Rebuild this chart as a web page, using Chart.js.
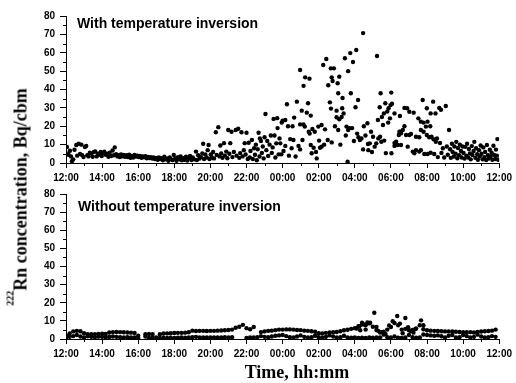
<!DOCTYPE html>
<html>
<head>
<meta charset="utf-8">
<script src="https://cdn.jsdelivr.net/npm/chart.js@4.4.1/dist/chart.umd.min.js"></script>
<style>
body{margin:0;background:#fff}
#wrap{position:relative;width:516px;height:383px;background:#fff;overflow:hidden}
.panel{position:absolute;left:0;width:516px}
#ytitle{position:absolute;left:22px;top:197px;transform:translate(-50%,-50%) rotate(-90deg);white-space:nowrap;font:bold 18px "Liberation Serif","Times New Roman",serif;line-height:18px;color:#000}
#ytitle span{font-size:10px;position:relative;top:-13px}
#xtitle{position:absolute;left:297px;top:362px;transform:translateX(-50%);white-space:nowrap;font:bold 18px "Liberation Serif","Times New Roman",serif;line-height:20px;color:#000}
</style>
</head>
<body>
<div id="wrap">
  <div class="panel" style="top:0;height:183px"><canvas id="topChart"></canvas></div>
  <div class="panel" style="top:183px;height:200px"><canvas id="bottomChart"></canvas></div>
  <div id="ytitle"><span>222</span>Rn concentration, Bq/cbm</div>
  <div id="xtitle">Time, hh:mm</div>
</div>
<script>
// hours after 12:00, value in Bq/cbm
var withInversion = [
  [0.05,8.7],[0.1,5],[0.15,4.4],[0.22,6.7],[0.28,3.5],[0.33,1],[0.4,2],[0.47,7.2],[0.57,9.8],[0.62,4],[0.7,10.5],[0.78,4.9],[0.85,10],[0.9,4.2],[0.97,3.2],
  [1.05,8.7],[1.12,9.3],[1.18,4.2],[1.25,3.6],[1.32,5.6],[1.4,5.2],[1.48,3.4],[1.55,6],[1.62,6.3],[1.7,3.6],[1.78,5],[1.85,4.5],[1.92,6],[1.98,3.8],
  [2.05,5.5],[2.12,6.2],[2.2,4.5],[2.28,5],[2.35,3.4],[2.42,5.6],[2.5,3.8],[2.58,6.8],[2.65,4.2],[2.7,8.5],[2.78,4.8],[2.85,3.6],[2.92,4.2],[2.98,3.2],
  [3.05,4.6],[3.12,3.6],[3.2,4.4],[3.27,3.4],[3.35,4.2],[3.42,3.2],[3.5,4.5],[3.57,2.8],[3.65,3.8],[3.72,3.0],[3.8,4.4],[3.87,3.5],[3.95,4],
  [4.02,3.2],[4.1,3.8],[4.18,2.8],[4.25,3.5],[4.33,3.1],[4.4,3.7],[4.48,2.6],[4.55,3.3],[4.63,2.7],[4.7,3.1],[4.78,2.4],[4.85,3],[4.93,2.2],
  [5.0,2.8],[5.08,1.8],[5.15,3],[5.22,2.2],[5.3,2.6],[5.37,1.5],[5.45,3.4],[5.52,2],[5.6,2.5],[5.67,1.2],[5.75,3],[5.82,2],[5.9,1.6],[5.97,4.4],
  [6.05,2.5],[6.12,1.2],[6.2,3.2],[6.27,2.0],[6.35,3.6],[6.42,1.5],[6.5,2.6],[6.57,1.8],[6.65,3.4],[6.72,1.4],[6.8,2.6],[6.87,3.8],[6.95,1.6],
  [7.02,3],[7.1,2],[7.2,6.2],[7.25,1.6],[7.32,4.2],[7.4,2.4],[7.47,3.2],[7.55,5.2],[7.6,10.5],[7.65,2.2],[7.72,4.6],[7.8,3],[7.85,7],[7.9,9.8],[7.95,2.2],
  [8.02,4.6],[8.08,3],[8.15,6],[8.2,2.5],[8.3,16.7],[8.35,4.4],[8.44,19.5],[8.5,3.6],[8.55,9.5],[8.6,5.2],[8.67,2.8],[8.75,10.8],[8.8,4],[8.88,6.2],[8.94,2.6],[8.99,18],
  [9.05,5],[9.1,10.8],[9.17,17],[9.22,3.2],[9.3,6],[9.4,18],[9.45,4],[9.54,18.6],[9.6,2.8],[9.65,5.4],[9.72,16.7],[9.78,3.6],[9.85,7],[9.9,10.8],[9.95,4.6],
  [10.0,16.5],[10.07,2.2],[10.12,11],[10.18,3],[10.22,6.5],[10.3,12.5],[10.35,2.2],[10.42,8],[10.47,4.5],[10.52,10],[10.57,1.5],[10.62,7.5],[10.67,16.5],[10.72,3.5],[10.74,13.4],[10.8,12],[10.85,5.5],[10.9,9],[10.95,2.5],
  [11.0,14],[11.05,26.7],[11.1,7],[11.15,12],[11.2,3.8],[11.28,10],[11.35,15],[11.4,5.5],[11.45,8.5],[11.5,24],[11.55,15],[11.6,3],[11.65,10.7],[11.7,24.4],[11.72,19],[11.78,4.7],[11.83,13.4],[11.87,10.7],[11.93,4.7],[11.95,22],
  [12.0,23],[12.05,6.5],[12.15,23.4],[12.15,9.3],[12.24,32],[12.3,20],[12.35,4],[12.42,13],[12.5,8],[12.55,20],[12.6,12.5],[12.64,24.7],[12.72,3.5],[12.79,33.4],[12.88,9.3],[12.97,7.4],[12.97,50.6],[12.97,21],
  [13.06,28.5],[13.1,12.5],[13.16,42],[13.16,21],[13.23,19.8],[13.25,46.6],[13.34,27.4],[13.41,32.5],[13.45,17],[13.49,45.9],[13.5,16],[13.56,25.8],[13.56,9.8],[13.61,5.3],[13.65,18.5],[13.72,8.3],[13.78,17],[13.85,6],[13.89,2.5],[13.98,19.8],
  [14.02,12.2],[14.07,8.3],[14.16,8.9],[14.16,20.7],[14.25,53.3],[14.3,10],[14.35,18.3],[14.42,56.6],[14.5,12.5],[14.53,42.3],[14.62,33],[14.67,51.5],[14.68,29.6],[14.72,46.6],[14.72,11.2],[14.77,44.6],[14.84,51.5],[14.9,20],[14.99,28.5],[14.99,24.9],
  [15.05,43.4],[15.08,18],[15.08,38],[15.14,47],[15.14,23.8],[15.2,10],[15.27,25],[15.3,29.8],[15.32,35.4],[15.38,27],[15.45,57],[15.5,15],[15.54,19.8],[15.6,0.7],[15.63,50],[15.63,18],[15.72,19],[15.75,59.8],[15.78,38],[15.85,19],[15.9,55],[15.95,12],
  [16.04,30.3],[16.08,61.5],[16.13,16],[16.18,34.3],[16.2,14],[16.28,12.5],[16.37,13.4],[16.46,70.7],[16.46,7.4],[16.5,20],[16.59,15],[16.7,21.6],[16.73,10.3],[16.75,7],[16.83,10.7],[16.9,17],[16.95,6],
  [17.01,14.3],[17.1,8.9],[17.19,10.7],[17.23,58.2],[17.28,23.4],[17.3,13.4],[17.38,30.3],[17.4,14.3],[17.43,38],[17.47,11.6],[17.5,25],[17.56,20.7],[17.61,27],[17.63,12.2],[17.69,32.5],[17.72,5.4],[17.8,28],[17.87,29.8],[17.85,22],[17.95,24.3],[17.98,31.5],
  [18.02,38.3],[18.03,5.3],[18.06,32.3],[18.2,27],[18.2,10.9],[18.2,9.3],[18.29,11.6],[18.38,9.8],[18.44,15.2],[18.47,17],[18.5,25.6],[18.53,17],[18.56,16.2],[18.56,9.8],[18.66,18],[18.75,30],[18.75,20],[18.84,15.2],[18.9,29.8],[18.93,8.9],
  [19.02,27.9],[19.02,15.2],[19.11,15.8],[19.21,6.2],[19.26,27.4],[19.3,5.3],[19.39,14.3],[19.39,7],[19.52,24.3],[19.57,14],[19.57,6.2],[19.66,22.5],[19.66,18],[19.66,7],[19.76,34.3],[19.81,22],[19.81,17],[19.85,4.9],[19.94,19.8],[19.99,29.8],[19.99,15.2],
  [20.03,22.5],[20.03,4.9],[20.12,14],[20.18,20],[20.2,27],[20.2,5.6],[20.25,14.3],[20.34,33.4],[20.36,12.9],[20.4,4.9],[20.47,27],[20.49,11.6],[20.55,13.4],[20.6,3.2],[20.68,30],[20.72,10.9],[20.77,29],[20.8,5.5],[20.88,8],[20.95,3],
  [21.04,31],[21.1,9],[21.15,4.5],[21.22,18],[21.28,7.5],[21.32,2.8],[21.38,10.5],[21.42,6],[21.48,3.5],[21.52,9],[21.58,5],[21.62,11.5],[21.68,2.6],[21.72,8.2],[21.78,4.2],[21.82,10],[21.88,6.5],[21.92,3],[21.97,9],
  [22.02,5.5],[22.08,2.4],[22.12,8.8],[22.18,4],[22.22,10.5],[22.28,3],[22.32,7.6],[22.38,5.2],[22.42,2],[22.48,9.2],[22.52,4.4],[22.58,6.5],[22.62,11.5],[22.68,2.8],[22.72,8],[22.78,4.8],[22.82,1.8],[22.88,7],[22.92,3.6],[22.97,9.5],
  [23.02,5],[23.08,2],[23.12,8.5],[23.18,3.2],[23.22,6],[23.28,1.6],[23.32,9.8],[23.38,4.2],[23.42,2.4],[23.48,7.2],[23.52,3.5],[23.58,5.6],[23.62,1.8],[23.68,9.4],[23.72,4.4],[23.78,2.2],[23.82,7.3],[23.87,4],[23.9,13],[23.95,1.8]
];

// without inversion: readings every 12 minutes from 12:00 (null = no reading)
var noInvUpper = [
  2.0,3.0,4.2,4.5,4.3,3.2,2.6,2.7,2.7,2.8, 2.9,2.8,3.6,3.8,3.9,3.8,3.7,3.6,3.5,3.3,
  1.8,null,2.6,2.8,2.7,null,2.6,3.0,3.1,3.2, 3.3,3.4,3.4,3.5,3.7,4.6,4.4,4.5,4.5,4.4,
  4.5,4.5,4.6,4.7,4.8,5.0,5.2,6.2,6.8,7.8, 6.0,5.4,6.6,null,3.8,4.2,4.5,4.6,4.9,5.2,
  5.2,5.3,5.3,5.2,5.0,4.9,4.6,4.5,4.3,4.0, 3.2,3.0,3.4,3.6,3.7,3.9,4.3,4.8,5.1,5.6,
  6.0,7.0,8.0,7.6,8.6,6.8,5.0,3.6,4.0,5.2, 6.6,8.8,7.6,5.2,5.6,4.8,5.0,5.8,7.6,5.4,
  4.8,4.6,4.5,4.4,4.3,4.2,4.2,4.1,4.0,3.9, 3.8,3.7,3.8,3.6,3.9,4.1,4.3,4.4,4.6,5.2,
  null
];
var noInvLower = [
  0.8,1.2,1.6,2.2,1.4,0.9,1.5,1.2,1.0,1.3, 1.2,0.9,1.1,1.4,1.2,1.0,0.9,1.0,0.8,0.9,
  0.7,null,1.4,0.6,1.0,0.8,0.6,0.7,0.6,0.7, 0.6,0.7,0.8,0.7,0.8,1.0,1.2,0.9,0.8,0.9,
  0.8,0.9,0.8,0.9,1.0,0.9,1.0,null,null,null, 0.6,0.8,0.9,1.0,1.6,1.2,1.0,1.4,1.8,2.0,
  2.2,1.6,1.0,0.8,1.4,2.0,1.2,0.8,1.0,1.8, 1.0,0.7,1.2,2.0,1.4,0.8,1.0,1.8,0.9,0.7,
  0.8,0.6,0.7,0.6,0.8,0.7,0.8,0.9,2.4,1.0, 0.8,1.4,0.7,0.6,0.8,2.2,1.0,0.7,0.9,2.5,
  2.2,2.0,1.8,2.0,1.5,0.9,1.8,2.2,0.8,1.0, 2.2,1.6,0.9,1.2,2.4,1.4,0.8,1.0,1.6,1.2,
  null
];
var noInvPeaks = [
  [16.1,5.8],[16.25,7],[16.3,4.8],[16.4,9],[16.55,8],[16.6,5.2],[16.7,9.1],[16.85,9],[17.08,14.5],[17.2,6.7],[17.3,4.5],
  [17.5,3.8],[17.7,2.8],[17.9,7.5],[18.1,9.8],[18.35,12.7],[18.5,8.5],[18.65,3.2],[18.8,11.6],[18.95,6.5],[19.1,4.4],
  [19.25,3.5],[19.35,5.5],[19.67,10.3],[19.8,7.6]
];

var hourTicks = [0,2,4,6,8,10,12,14,16,18,20,22,24];
var valueTicks = [0,10,20,30,40,50,60,70,80];

function hourLabel(v) {
  var h = (12 + v) % 24;
  return (h < 10 ? '0' : '') + h + ':00';
}
function pairs(list) {
  return list.map(function (p) { return { x: p[0], y: p[1] }; });
}
function grid(values) {
  var out = [];
  values.forEach(function (v, i) { if (v !== null) out.push({ x: i * 0.2, y: v }); });
  return out;
}

var tickFont = { family: '"Liberation Sans", Arial, sans-serif', weight: 'bold', size: 10 };

var minorTicks = {
  id: 'minorTicks',
  afterDraw: function (chart) {
    var ctx = chart.ctx, xs = chart.scales.x, ys = chart.scales.y;
    ctx.save();
    ctx.strokeStyle = '#000';
    ctx.lineWidth = 1;
    ctx.beginPath();
    for (var h = 1; h < 24; h += 2) {
      var px = Math.round(xs.getPixelForValue(h)) + 0.5;
      ctx.moveTo(px, xs.top); ctx.lineTo(px, xs.top + 3);
    }
    for (var v = 5; v < 80; v += 10) {
      var py = Math.round(ys.getPixelForValue(v)) + 0.5;
      ctx.moveTo(ys.right - 3, py); ctx.lineTo(ys.right, py);
    }
    ctx.stroke();
    ctx.restore();
  }
};

var panelTitle = {
  id: 'panelTitle',
  afterDraw: function (chart) {
    var o = chart.options.plugins.panelTitle;
    var ctx = chart.ctx;
    ctx.save();
    ctx.font = 'bold 14px "Liberation Sans", Arial, sans-serif';
    ctx.fillStyle = '#000';
    ctx.textBaseline = 'alphabetic';
    ctx.fillText(o.text, chart.chartArea.left + o.dx, chart.chartArea.top + o.dy);
    ctx.restore();
  }
};

function makePanel(id, datasets, title, dx, dy, padTop, xHeight) {
  return new Chart(document.getElementById(id), {
    type: 'scatter',
    data: { datasets: datasets },
    plugins: [minorTicks, panelTitle],
    options: {
      responsive: true,
      maintainAspectRatio: false,
      animation: false,
      layout: { padding: { top: padTop, right: 14, left: 0, bottom: 0 } },
      plugins: {
        legend: { display: false },
        tooltip: { enabled: false },
        panelTitle: { text: title, dx: dx, dy: dy }
      },
      elements: { point: { radius: 2.2, backgroundColor: '#000', borderWidth: 0, hoverRadius: 2.2 } },
      scales: {
        x: {
          type: 'linear', min: 0, max: 24,
          afterBuildTicks: function (s) { s.ticks = hourTicks.map(function (v) { return { value: v }; }); },
          afterFit: function (s) { s.height = xHeight; },
          ticks: { callback: hourLabel, font: tickFont, color: '#000', padding: 4, maxRotation: 0, autoSkip: false },
          grid: { display: true, drawOnChartArea: false, drawTicks: true, tickLength: 5, color: '#000' },
          border: { display: true, color: '#000', width: 1 }
        },
        y: {
          min: 0, max: 80,
          afterBuildTicks: function (s) { s.ticks = valueTicks.map(function (v) { return { value: v }; }); },
          afterFit: function (s) { s.width = 66; },
          ticks: { font: tickFont, color: '#000', padding: 5 },
          grid: { display: true, drawOnChartArea: false, drawTicks: true, tickLength: 6, color: '#000' },
          border: { display: true, color: '#000', width: 1 }
        }
      }
    }
  });
}

makePanel('topChart', [
  { label: 'With temperature inversion', data: pairs(withInversion) }
], 'With temperature inversion', 11, 12, 16, 20);

makePanel('bottomChart', [
  { label: 'upper', data: grid(noInvUpper) },
  { label: 'lower', data: grid(noInvLower) },
  { label: 'peaks', data: pairs(noInvPeaks) }
], 'Without temperature inversion', 12, 17, 9, 44);
</script>
</body>
</html>
